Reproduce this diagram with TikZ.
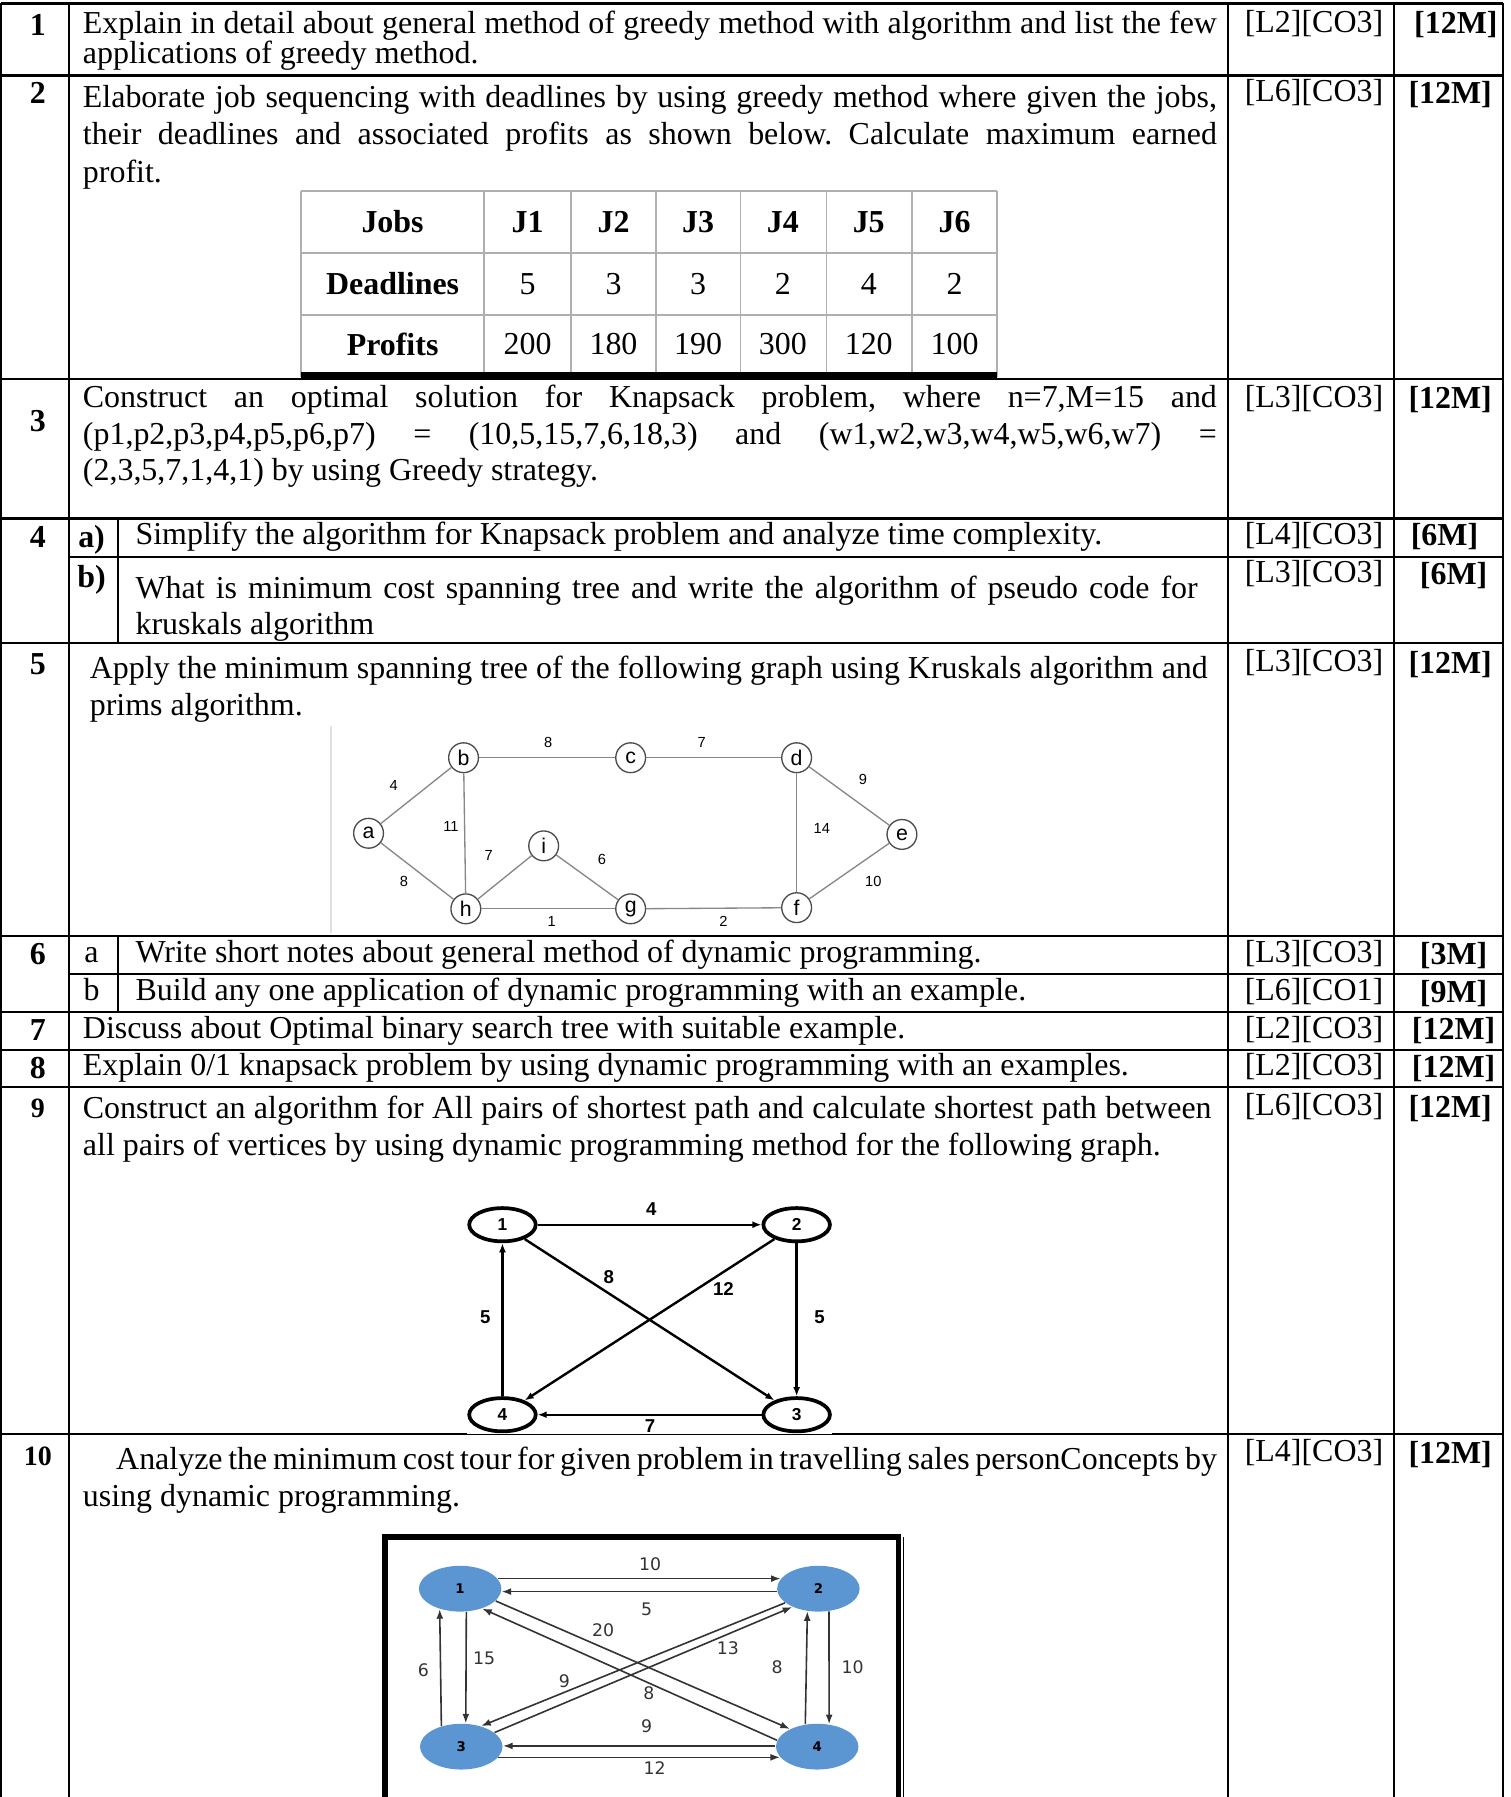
\documentclass[tikz,border=0pt]{standalone}
\usepackage{fontspec}
\setmainfont{Liberation Serif}
\newfontfamily\graphfont{Liberation Sans}
\newfontfamily\tourfont{DejaVu Sans}
\usepackage{tikz}
\usetikzlibrary{arrows,arrows.meta,positioning,shapes.geometric}

\hyphenpenalty=10000
\tolerance=10000
\frenchspacing

\definecolor{tourblue}{RGB}{91,150,210}
\definecolor{jobgray}{RGB}{175,175,175}
\definecolor{mstgray}{RGB}{135,135,135}

\tikzset{
  rule/.style={line width=0.8pt},
  jobline/.style={draw=jobgray, line width=0.6pt},
  qnum/.style={anchor=base, inner sep=0pt, font=\fontsize{12}{14}\selectfont\bfseries},
  qtext/.style={anchor=base west, inner sep=0pt, align=justify, font=\fontsize{12}{13.8}\selectfont},
  qline/.style={anchor=base west, inner sep=0pt, font=\fontsize{12}{14}\selectfont},
  level/.style={anchor=base, inner sep=0pt, font=\fontsize{12}{14}\selectfont},
  marks/.style={anchor=base, inner sep=0pt, font=\fontsize{12}{14}\selectfont\bfseries},
  jobcell/.style={anchor=base, inner sep=0pt, font=\fontsize{12}{14}\selectfont},
  jobhead/.style={jobcell, font=\fontsize{12}{14}\selectfont\bfseries},
  mstnode/.style={circle, draw=black!70, line width=0.5pt, minimum size=11.2pt,
    inner sep=0pt, font=\graphfont\fontsize{8}{8}\selectfont},
  mstedge/.style={draw=mstgray, line width=0.5pt},
  mstweight/.style={inner sep=0pt, font=\graphfont\fontsize{5.5}{6}\selectfont},
  apnode/.style={ellipse, draw, line width=1.4pt, minimum width=25pt, minimum height=12.5pt,
    inner sep=0pt, font=\graphfont\bfseries\fontsize{6.5}{7}\selectfont},
  apedge/.style={line width=0.9pt, -{Latex[length=3.4pt,width=2.6pt]}},
  apweight/.style={inner sep=0pt, font=\graphfont\bfseries\fontsize{7}{8}\selectfont},
  tournode/.style={ellipse, fill=tourblue, minimum width=31pt, minimum height=17.2pt,
    inner sep=0pt, font=\tourfont\bfseries\fontsize{5}{6}\selectfont},
  touredge/.style={draw=black!80, line width=0.6pt, -{Latex[length=3.6pt,width=2.6pt]}},
  tourweight/.style={inner sep=0pt, font=\tourfont\fontsize{6.5}{7}\selectfont, text=black!80}
}

\begin{document}
\begin{tikzpicture}[x=0.43pt, y=-0.43pt]
\useasboundingbox (0,0) rectangle (1320,1570);

% table frame and rules
\foreach \x in {1,60,1073,1218,1313}
  \draw[rule] (\x,3) -- (\x,1570);
\foreach \y in {3,66,331,453,562,818,884,917,950}
  \draw[rule] (1,\y) -- (1313,\y);
\foreach \y in {487,851}
  \draw[rule] (60,\y) -- (1313,\y);
\draw[rule] (103,453) -- (103,562);
\draw[rule] (103,818) -- (103,884);
\draw[rule] (1,1253) -- (408,1253);
\draw[line width=0.4pt] (408,1253) -- (727,1253);
\draw[rule] (727,1253) -- (1313,1253);

% question numbers
\foreach \n/\y in {1/31,2/90,3/377,4/478,5/589,6/843,7/909,8/942}
  \node[qnum] (num\n) at (33,\y) {\n};
\node[qnum, font=\fontsize{10.5}{12}\selectfont\bfseries] (num9) at (33,976) {9};
\node[qnum, font=\fontsize{10.5}{12}\selectfont\bfseries] (num10) at (33,1280) {10};

% levels and marks
\foreach \r/\y/\t in {1/28/{[L2][CO3]}, 2/89/{[L6][CO3]}, 3/356/{[L3][CO3]},
    4a/476/{[L4][CO3]}, 4b/509/{[L3][CO3]}, 5/587/{[L3][CO3]}, 6a/841/{[L3][CO3]},
    6b/874/{[L6][CO1]}, 7/907/{[L2][CO3]}, 8/940/{[L2][CO3]}, 9/975/{[L6][CO3]},
    10/1277/{[L4][CO3]}}
  \node[level] (lv\r) at (1148,\y) {\t};
\foreach \r/\x/\y/\t in {1/1272/29/{[12M]}, 2/1267/90/{[12M]}, 3/1267/357/{[12M]},
    4a/1262/477/{[6M]}, 4b/1270/511/{[6M]}, 5/1267/588/{[12M]}, 6a/1270/843/{[3M]},
    6b/1270/876/{[9M]}, 7/1270/908/{[12M]}, 8/1270/941/{[12M]}, 9/1267/976/{[12M]},
    10/1267/1279/{[12M]}}
  \node[marks] (mk\r) at (\x,\y) {\t};

% question texts
\node[qtext, text width=426pt, font=\fontsize{12}{11.2}\selectfont]
  (q1) at (72,29) {Explain in detail about general method of greedy method with algorithm and list the few\linebreak
  applications of greedy method.};
\node[qtext, text width=426pt, font=\fontsize{12}{14}\selectfont]
  (q2) at (72,94) {Elaborate job sequencing with deadlines by using greedy method where given the jobs,\linebreak
  their deadlines and associated profits as shown below. Calculate maximum earned\linebreak profit.};
\node[qtext, text width=426pt] (q3) at (72,356)
  {Construct an optimal solution for Knapsack problem, where n=7,M=15 and\linebreak
  (p1,p2,p3,p4,p5,p6,p7) = (10,5,15,7,6,18,3) and (w1,w2,w3,w4,w5,w6,w7) =\linebreak
  (2,3,5,7,1,4,1) by using Greedy strategy.};
\node[qnum] (sub4a) at (80,478) {a)};
\node[qline] (q4a) at (118,476) {Simplify the algorithm for Knapsack problem and analyze time complexity.};
\node[qnum] (sub4b) at (80,513) {b)};
\node[qtext, text width=399pt, font=\fontsize{12}{13.3}\selectfont]
  (q4b) at (118,523) {What is minimum cost spanning tree and write the algorithm of pseudo code for\linebreak
  kruskals algorithm};
\node[qtext, text width=420pt] (q5) at (78,593)
  {Apply the minimum spanning tree of the following graph using Kruskals algorithm and\linebreak prims algorithm.};
\node[level] (sub6a) at (80,841) {a};
\node[qline] (q6a) at (118,841) {Write short notes about general method of dynamic programming.};
\node[level] (sub6b) at (80,874) {b};
\node[qline] (q6b) at (118,874) {Build any one application of dynamic programming with an example.};
\node[qline] (q7) at (72,907) {Discuss about Optimal binary search tree with suitable example.};
\node[qline] (q8) at (72,940) {Explain 0/1 knapsack problem by using dynamic programming with an examples.};
\node[qtext, text width=424pt] (q9) at (72,977)
  {Construct an algorithm for All pairs of shortest path and calculate shortest path between\linebreak
  all pairs of vertices by using dynamic programming method for the following graph.};
\node[qtext, text width=426pt] (q10) at (72,1284)
  {\hspace*{12.5pt}Analyze the minimum cost tour for given problem in travelling sales personConcepts by\linebreak
  using dynamic programming.};

% job table
\foreach \x in {263,423,499,573,647,722,797,871}
  \draw[jobline] (\x,167) -- (\x,329);
\foreach \y in {167,221,275}
  \draw[jobline] (263,\y) -- (871,\y);
\draw[line width=2.4pt] (263,328) -- (871,328);
\node[jobhead] (jobs) at (343,203) {Jobs};
\node[jobhead] (deadlines) at (343,257) {Deadlines};
\node[jobhead] (profits) at (343,311) {Profits};
\foreach \x/\d/\p [count=\i] in {461/5/200, 536/3/180, 610/3/190, 684/2/300, 759/4/120, 834/2/100} {
  \node[jobhead] (job\i) at (\x,203) {J\i};
  \node[jobcell] (dl\i) at (\x,257) {\d};
  \node[jobcell] (pf\i) at (\x,310) {\p};
}

% graph for question 5
\draw[black!12, line width=0.6pt] (289,634) -- (289,815);
\node[mstnode] (a) at (322,728) {a};
\node[mstnode] (b) at (405,662) {b};
\node[mstnode] (c) at (551,662) {c};
\node[mstnode] (d) at (696,662) {d};
\node[mstnode] (e) at (788,729) {e};
\node[mstnode] (i) at (475,739) {i};
\node[mstnode] (h) at (407,794) {h};
\node[mstnode] (g) at (551,794) {g};
\node[mstnode] (f) at (696,793) {f};
\foreach \u/\v in {a/b, b/c, c/d, d/e, a/h, b/h, h/i, i/g, h/g, g/f, d/f, e/f}
  \draw[mstedge] (\u) -- (\v);
\foreach \u/\x/\y/\w in {ab/344/686/4, bc/479/649/8, cd/613/649/7, de/754/681/9, bh/394/722/11,
    df/718/724/14, hi/427/747/7, ig/526/751/6, ah/353/770/8, ef/763/770/10, hg/482/805/1, gf/632/805/2}
  \node[mstweight] (w\u) at (\x,\y) {\w};

% graph for question 9
\node[apnode] (v1) at (439,1070) {1};
\node[apnode] (v2) at (696,1070) {2};
\node[apnode] (v3) at (696,1236) {3};
\node[apnode] (v4) at (439,1236) {4};
\draw[apedge] (v1) -- (v2);
\draw[apedge] (v2) -- (v3);
\draw[apedge] (v3) -- (v4);
\draw[apedge] (v4) -- (v1);
\draw[apedge] (v1) -- (v3);
\draw[apedge] (v2) -- (v4);
\node[apweight] (a12) at (569,1056) {4};
\node[apweight] (a23) at (716,1151) {5};
\node[apweight] (a34) at (568,1246) {7};
\node[apweight] (a41) at (424,1151) {5};
\node[apweight] (a13) at (532,1116) {8};
\node[apweight] (a24) at (632,1126) {12};

% graph for question 10
\draw[line width=2.2pt] (336,1570) -- (336,1343) -- (785,1343) -- (785,1570);
\draw[line width=0.4pt] (789,1343) -- (789,1570);
\node[tournode] (t1) at (402,1388) {1};
\node[tournode] (t2) at (715,1388) {2};
\node[tournode] (t3) at (403,1526) {3};
\node[tournode] (t4) at (714,1526) {4};
\draw[touredge] (t1.15) -- (t2.165);
\draw[touredge] (t2.184) -- (t1.-4);
\draw[touredge] (t1.-75) -- (t3.79);
\draw[touredge] (t3.134) -- (t1.225);
\draw[touredge] (t2.-65) -- (t4.62);
\draw[touredge] (t4.118) -- (t2.244);
\draw[touredge] (t1.-19) -- (t4.147);
\draw[touredge] (t4.171) -- (t1.-42);
\draw[touredge] (t2.203) -- (t3.46);
\draw[touredge] (t3.23) -- (t2.215);
\draw[touredge] (t4.179) -- (t3.1);
\draw[touredge] (t3.-16) -- (t4.196);
\foreach \u/\x/\y/\w in {12/568/1367/10, 21/565/1406/5, 14/527/1424/20, 23/636/1440/13,
    13/423/1449/15, 31/370/1459/6, 42/679/1457/8, 24/745/1457/10, 32/493/1469/9,
    41/567/1479/8, 43/565/1508/9, 34/572/1545/12}
  \node[tourweight] (c\u) at (\x,\y) {\w};

\end{tikzpicture}
\end{document}
